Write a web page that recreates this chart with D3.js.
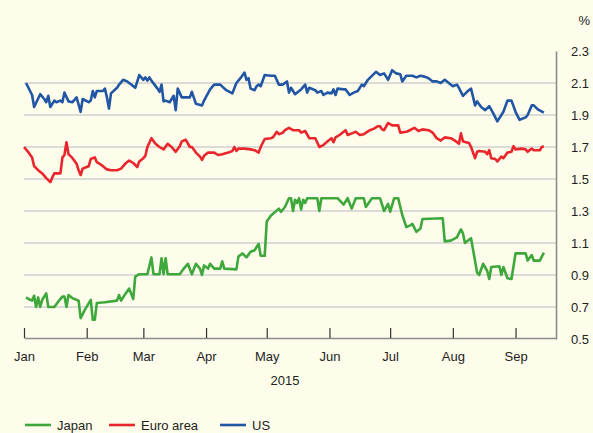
<!DOCTYPE html>
<html>
<head>
<meta charset="utf-8">
<script src="https://cdn.jsdelivr.net/npm/d3@7"></script>
<style>
  html, body { margin: 0; padding: 0; background: #fefceb; }
  svg { display: block; }
  text { font-family: "Liberation Sans", Arial, Helvetica, sans-serif; fill: #231f20; }
</style>
</head>
<body>
<script>
// ---- Data (day offsets from 1 Jan 2015, yield in %) ----
const usData = [
  [1,2.10],[4,2.025],[5,1.95],[8,2.03],[10,2.00],[11,1.98],[12,2.02],[13,1.95],[15,1.99],[16,1.98],
  [18,1.99],[19,1.98],[20,2.04],[22,1.985],[24,1.98],[26,2.01],[28,1.92],[29,2.00],[32,1.98],[33,1.99],
  [34,2.05],[35,2.01],[36,2.05],[39,2.05],[40,2.065],[41,2.01],[42,1.94],[43,2.035],[46,2.07],[47,2.09],
  [49,2.12],[51,2.11],[53,2.09],[55,2.07],[57,2.15],[59,2.12],[60,2.135],[61,2.115],[62,2.135],[63,2.115],
  [66,2.065],[67,2.045],[68,2.09],[69,1.985],[70,1.99],[72,1.98],[74,2.02],[75,1.93],[76,2.065],[78,2.01],
  [80,2.01],[82,2.01],[83,2.045],[85,1.97],[88,1.96],[89,1.99],[92,2.06],[94,2.09],[97,2.09],[100,2.055],
  [103,2.035],[105,2.10],[107,2.13],[109,2.165],[110,2.12],[111,2.13],[112,2.065],[114,2.055],[115,2.08],[116,2.09],
  [117,2.08],[119,2.15],[122,2.145],[124,2.145],[126,2.09],[128,2.09],[130,2.11],[131,2.04],[132,2.07],[134,2.03],
  [136,2.05],[137,2.06],[139,2.09],[140,2.04],[141,2.07],[144,2.055],[145,2.04],[147,2.05],[148,2.025],[150,2.04],
  [152,2.035],[153,2.06],[154,2.025],[155,2.065],[158,2.06],[159,2.06],[161,2.025],[163,2.04],[165,2.05],[167,2.09],
  [168,2.08],[170,2.12],[172,2.145],[174,2.17],[176,2.15],[178,2.16],[180,2.12],[182,2.18],[184,2.16],[186,2.155],
  [187,2.11],[189,2.145],[192,2.145],[194,2.135],[196,2.145],[198,2.14],[200,2.13],[202,2.11],[204,2.11],[206,2.10],
  [208,2.12],[210,2.10],[212,2.08],[214,2.09],[215,2.07],[217,2.02],[219,2.045],[221,2.065],[223,1.96],[224,1.985],
  [226,1.95],[228,1.93],[230,1.955],[232,1.91],[234,1.86],[236,1.90],[237,1.92],[239,1.99],[241,1.99],[243,1.92],
  [245,1.87],[248,1.885],[249,1.90],[251,1.96],[252,1.96],[254,1.935],[257,1.915]
];
const euroData = [
  [0,1.70],[2,1.67],[4,1.635],[5,1.58],[7,1.555],[9,1.535],[11,1.505],[13,1.48],[14,1.51],[15,1.535],
  [18,1.535],[19,1.635],[20,1.65],[21,1.73],[22,1.655],[24,1.63],[26,1.595],[27,1.555],[28,1.525],[29,1.565],
  [31,1.575],[32,1.58],[33,1.625],[35,1.635],[36,1.605],[38,1.59],[41,1.56],[43,1.555],[46,1.555],[48,1.565],
  [50,1.595],[52,1.615],[54,1.60],[56,1.575],[57,1.61],[59,1.63],[60,1.645],[61,1.70],[63,1.755],[65,1.72],
  [67,1.70],[69,1.685],[71,1.72],[73,1.70],[75,1.67],[77,1.705],[78,1.735],[80,1.745],[82,1.70],[83,1.70],
  [85,1.665],[87,1.64],[88,1.62],[89,1.645],[91,1.665],[94,1.665],[96,1.65],[98,1.655],[101,1.665],[103,1.675],
  [104,1.70],[105,1.675],[106,1.69],[109,1.69],[112,1.685],[114,1.68],[116,1.665],[117,1.70],[119,1.75],[122,1.755],
  [123,1.76],[125,1.795],[126,1.78],[128,1.79],[129,1.805],[131,1.82],[133,1.805],[136,1.805],[137,1.79],[139,1.80],
  [141,1.755],[144,1.755],[146,1.70],[148,1.712],[150,1.735],[152,1.755],[153,1.73],[154,1.76],[156,1.775],[159,1.805],
  [160,1.775],[163,1.79],[164,1.795],[166,1.775],[168,1.78],[171,1.805],[173,1.815],[175,1.83],[176,1.83],[177,1.81],
  [178,1.805],[180,1.85],[182,1.835],[185,1.835],[186,1.79],[189,1.795],[190,1.80],[193,1.82],[195,1.80],[197,1.81],
  [200,1.805],[202,1.79],[204,1.755],[206,1.74],[208,1.76],[211,1.755],[213,1.74],[215,1.72],[216,1.785],[217,1.735],
  [220,1.725],[221,1.70],[223,1.63],[224,1.67],[225,1.675],[228,1.67],[229,1.655],[230,1.68],[231,1.63],[233,1.625],
  [234,1.61],[236,1.64],[237,1.63],[239,1.665],[241,1.67],[242,1.705],[243,1.685],[246,1.69],[248,1.685],[249,1.67],
  [251,1.69],[252,1.68],[255,1.68],[256,1.70],[257,1.705]
];
const japanData = [
  [1,0.76],[3,0.745],[4,0.74],[5,0.77],[6,0.70],[7,0.76],[8,0.70],[9,0.745],[11,0.785],[12,0.70],
  [15,0.70],[17,0.735],[19,0.765],[20,0.765],[21,0.70],[22,0.775],[24,0.755],[27,0.74],[28,0.63],[30,0.68],
  [33,0.745],[34,0.62],[35,0.62],[36,0.725],[40,0.73],[46,0.74],[47,0.775],[48,0.74],[50,0.78],[52,0.815],
  [54,0.75],[55,0.89],[57,0.905],[61,0.905],[63,1.01],[64,0.905],[67,0.905],[68,1.005],[69,0.905],[70,1.005],
  [71,0.905],[77,0.905],[79,0.94],[81,0.97],[83,0.905],[85,0.97],[87,0.94],[88,0.90],[89,0.96],[91,0.94],
  [92,0.97],[94,0.94],[97,0.94],[98,0.985],[99,0.94],[105,0.935],[106,1.015],[108,1.035],[110,1.01],[112,1.045],
  [114,1.055],[116,1.095],[117,1.02],[119,1.02],[120,1.235],[122,1.27],[126,1.315],[127,1.295],[129,1.325],[131,1.38],
  [132,1.38],[133,1.30],[134,1.37],[135,1.35],[136,1.38],[137,1.31],[138,1.37],[139,1.35],[140,1.38],[145,1.38],
  [146,1.30],[147,1.38],[155,1.38],[158,1.34],[160,1.38],[162,1.315],[164,1.38],[168,1.38],[169,1.325],[172,1.38],
  [176,1.38],[178,1.30],[180,1.345],[181,1.295],[183,1.38],[185,1.38],[187,1.275],[189,1.20],[191,1.21],[192,1.22],
  [194,1.17],[196,1.19],[197,1.25],[207,1.255],[208,1.11],[211,1.115],[214,1.135],[216,1.185],[217,1.16],[218,1.10],
  [220,1.12],[221,1.13],[224,0.915],[225,0.90],[227,0.97],[229,0.925],[230,0.875],[231,0.95],[235,0.955],[236,0.90],
  [237,0.95],[239,0.88],[241,0.875],[243,1.035],[248,1.035],[249,0.99],[251,1.025],[252,0.99],[255,0.99],[257,1.04]
];
const yTicks = [0.5, 0.7, 0.9, 1.1, 1.3, 1.5, 1.7, 1.9, 2.1, 2.3];
const gridValues = [0.7, 0.9, 1.1, 1.3, 1.5, 1.7, 1.9, 2.1];
const monthLabels = ["Jan","Feb","Mar","Apr","May","Jun","Jul","Aug","Sep"];
const yearLabel = "2015";
const unitLabel = "%";
const seriesNames = ["Japan", "Euro area", "US"];
const seriesColors = ["#3ea83c", "#e9262b", "#2156a5"];

// ---- Layout ----
const W = 593, H = 433;
const mLeft = 24, mRight = 556, mTop = 51, mBottom = 339;

const start = new Date(2015, 0, 1);
const toDate = d => d3.timeDay.offset(start, d);

const x = d3.scaleTime().domain([start, new Date(2015, 8, 21)]).range([mLeft, mRight]);
const y = d3.scaleLinear().domain([0.5, 2.3]).range([mBottom, mTop]);

const svg = d3.select("body").append("svg").attr("width", W).attr("height", H);
svg.append("rect").attr("width", W).attr("height", H).attr("fill", "#fefceb");

// gridlines
svg.append("g").selectAll("line").data(gridValues).join("line")
  .attr("x1", mLeft).attr("x2", mRight)
  .attr("y1", d => y(d)).attr("y2", d => y(d))
  .attr("stroke", "#dcdcd6").attr("stroke-width", 2);

// series
const line = d3.line().x(d => x(toDate(d[0]))).y(d => y(d[1]));
const allSeries = [japanData, euroData, usData];
svg.append("g").selectAll("path").data(allSeries).join("path")
  .attr("d", line)
  .attr("fill", "none")
  .attr("stroke", (d, i) => seriesColors[i])
  .attr("stroke-width", 2.6)
  .attr("stroke-linejoin", "round");

// bottom axis
const months = monthLabels.map((m, i) => new Date(2015, i, 1));
const xAxis = d3.axisBottom(x).tickValues(months)
  .tickFormat((d, i) => monthLabels[i]).tickSizeInner(-10).tickSizeOuter(0).tickPadding(14);
const gx = svg.append("g").attr("transform", `translate(0,${mBottom - 1})`).call(xAxis);
gx.select(".domain").attr("stroke", "#8c8c8c").attr("stroke-width", 1.6);
gx.selectAll(".tick line").attr("stroke", "#333").attr("stroke-width", 1.2);
gx.selectAll(".tick text").attr("font-size", 13).attr("fill", "#231f20")
  .attr("font-family", '"Liberation Sans", Arial, sans-serif');

// right axis
const yAxis = d3.axisRight(y).tickValues(yTicks).tickFormat(d3.format(".1f"))
  .tickSize(0).tickPadding(15);
const gy = svg.append("g").attr("transform", `translate(${mRight},0)`).call(yAxis);
gy.select(".domain").attr("stroke", "#8c8c8c").attr("stroke-width", 1.6);
gy.selectAll(".tick text").attr("font-size", 13).attr("fill", "#231f20")
  .attr("font-family", '"Liberation Sans", Arial, sans-serif');

svg.append("text").attr("x", 590).attr("y", 25).attr("text-anchor", "end")
  .attr("font-size", 13).text(unitLabel);
svg.append("text").attr("x", 285).attr("y", 385).attr("text-anchor", "middle")
  .attr("font-size", 13).text(yearLabel);

// legend
const legendX = [25, 109, 220];
const lg = svg.append("g").selectAll("g").data(seriesNames).join("g")
  .attr("transform", (d, i) => `translate(${legendX[i]},425)`);
lg.append("line").attr("x1", 0).attr("x2", 26).attr("y1", 0).attr("y2", 0)
  .attr("stroke", (d, i) => seriesColors[i]).attr("stroke-width", 2.6);
lg.append("text").attr("x", 32).attr("y", 4.6).attr("font-size", 13).text(d => d);
</script>
</body>
</html>
